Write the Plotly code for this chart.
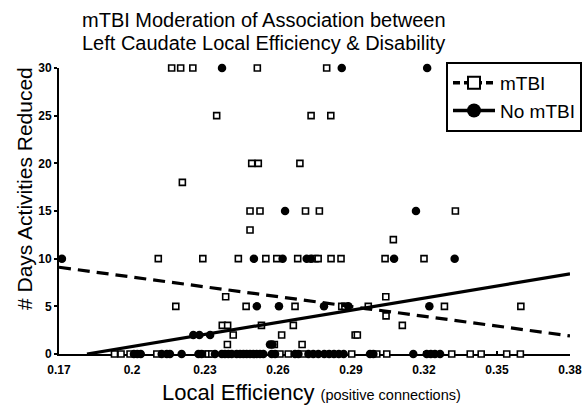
import plotly.graph_objects as go

# ---- data ----
mtbi_x = [0.2163, 0.2200, 0.2250, 0.2515, 0.2800,
          0.2348, 0.2736, 0.2817,
          0.2492, 0.2519, 0.2690,
          0.2207,
          0.2485, 0.2526, 0.2713, 0.2770, 0.3329,
          0.2485,
          0.3074,
          0.2108, 0.2291, 0.2437, 0.2550, 0.2595, 0.2681, 0.2752, 0.2765, 0.2818, 0.2859, 0.3040, 0.3200,
          0.2385, 0.3043,
          0.2180, 0.2469, 0.2670, 0.2862, 0.2875, 0.2971, 0.3284, 0.3598,
          0.3044,
          0.2371, 0.2393, 0.2532, 0.2663, 0.3111,
          0.2416, 0.2615, 0.2917, 0.2926,
          0.2392, 0.2585, 0.2699,
          0.1928, 0.1955, 0.1992, 0.2102, 0.2300, 0.2314, 0.2328, 0.2608, 0.2642, 0.2702,
          0.2903, 0.3006, 0.3047, 0.3314, 0.3390, 0.3435, 0.3540, 0.3596]
mtbi_y = [30, 30, 30, 30, 30,
          25, 25, 25,
          20, 20, 20,
          18,
          15, 15, 15, 15, 15,
          13,
          12,
          10, 10, 10, 10, 10, 10, 10, 10, 10, 10, 10, 10,
          6, 6,
          5, 5, 5, 5, 5, 5, 5, 5,
          4,
          3, 3, 3, 3, 3,
          2, 2, 2, 2,
          1, 1, 1,
          0, 0, 0, 0, 0, 0, 0, 0, 0, 0,
          0, 0, 0, 0, 0, 0, 0, 0]

nomtbi_x = [0.2370, 0.2862, 0.3213,
            0.2629, 0.3167,
            0.1712, 0.2501, 0.2619, 0.2718, 0.2735, 0.3077, 0.3326,
            0.2513, 0.2604, 0.2789, 0.2889, 0.3222,
            0.2252, 0.2277, 0.2321,
            0.2567, 0.2577,
            0.2008, 0.2022, 0.2036, 0.2122, 0.2143, 0.2156, 0.2204, 0.2273, 0.2286, 0.2341,
            0.2369, 0.2382, 0.2396, 0.2410, 0.2430, 0.2444, 0.2458, 0.2471, 0.2485, 0.2499,
            0.2512, 0.2526, 0.2540, 0.2574, 0.2588, 0.2670, 0.2684, 0.2725, 0.2745, 0.2766,
            0.2790, 0.2810, 0.2830, 0.2850, 0.2870, 0.2978, 0.2992, 0.3156, 0.3211, 0.3228,
            0.3245, 0.3266]
nomtbi_y = [30, 30, 30,
            15, 15,
            10, 10, 10, 10, 10, 10, 10,
            5, 5, 5, 5, 5,
            2, 2, 2,
            1, 1,
            0, 0, 0, 0, 0, 0, 0, 0, 0, 0,
            0, 0, 0, 0, 0, 0, 0, 0, 0, 0,
            0, 0, 0, 0, 0, 0, 0, 0, 0, 0,
            0, 0, 0, 0, 0, 0, 0, 0, 0, 0,
            0, 0]

# regression lines
mtbi_fit_x = [0.17, 0.38]
mtbi_fit_y = [9.1, 1.9]
nomtbi_fit_x = [0.1815, 0.38]
nomtbi_fit_y = [0.0, 8.4]

x_ticks = [0.17, 0.20, 0.23, 0.26, 0.29, 0.32, 0.35, 0.38]
x_tick_labels = ["0.17", "0.2", "0.23", "0.26", "0.29", "0.32", "0.35", "0.38"]
y_ticks = [0, 5, 10, 15, 20, 25, 30]

title_lines = ["mTBI Moderation of Association between",
               "Left Caudate Local Efficiency & Disability"]

FONT = "Liberation Sans, Arial, sans-serif"
W, H = 583, 407
L, R, T, B = 59, 1, 68, 53
AXIS_RIGHT = 570                      # right end of the x axis (px)
PW, PH = W - L - R, H - T - B


def px_x(p):
    return (p - L) / PW


def px_y(p):
    return (H - B - p) / PH


fig = go.Figure()

fig.add_trace(go.Scatter(
    x=mtbi_x, y=mtbi_y, mode="markers", showlegend=False, cliponaxis=False,
    marker=dict(symbol="square", size=6, color="white",
                line=dict(color="black", width=1.6))))
fig.add_trace(go.Scatter(
    x=nomtbi_x, y=nomtbi_y, mode="markers", showlegend=False, cliponaxis=False,
    marker=dict(symbol="circle", size=8.5, color="black",
                line=dict(color="black", width=0))))
fig.add_trace(go.Scatter(
    x=mtbi_fit_x, y=mtbi_fit_y, mode="lines", showlegend=False,
    line=dict(color="black", width=3.2, dash="12px,7px")))
fig.add_trace(go.Scatter(
    x=nomtbi_fit_x, y=nomtbi_fit_y, mode="lines", showlegend=False,
    line=dict(color="black", width=3.2)))

# legend-only entries
fig.add_trace(go.Scatter(
    x=[None], y=[None], mode="lines+markers", name="mTBI",
    marker=dict(symbol="square", size=12, color="white",
                line=dict(color="black", width=2)),
    line=dict(color="black", width=3.5, dash="7px,4px")))
fig.add_trace(go.Scatter(
    x=[None], y=[None], mode="lines+markers", name="No mTBI",
    marker=dict(symbol="circle", size=14, color="black"),
    line=dict(color="black", width=3.5)))

fig.update_layout(
    width=W, height=H,
    paper_bgcolor="white", plot_bgcolor="white",
    margin=dict(l=L, r=R, t=T, b=B),
    font=dict(family=FONT, color="black"),
    legend=dict(
        x=px_x(582), y=px_y(62), xanchor="right", yanchor="top",
        bgcolor="white", bordercolor="black", borderwidth=2,
        font=dict(family=FONT, size=19, color="black"),
        itemsizing="trace", itemwidth=42, tracegroupgap=0),
    xaxis=dict(
        domain=[0, (AXIS_RIGHT - L) / PW],
        range=[0.17, 0.38], tickvals=x_ticks, ticktext=x_tick_labels,
        showgrid=False, zeroline=False, showline=True, linecolor="black", linewidth=2,
        ticks="inside", ticklen=3, tickwidth=1.5, tickcolor="black",
        tickfont=dict(family=FONT, size=12, color="black", weight="bold"),
        ticklabelstandoff=4,
        layer="below traces", automargin=False),
    yaxis=dict(
        range=[0, 30], tickvals=y_ticks,
        showgrid=False, zeroline=False, showline=True, linecolor="black", linewidth=2,
        ticks="outside", ticklen=3, tickwidth=1.5, tickcolor="black",
        tickfont=dict(family=FONT, size=12, color="black", weight="bold"),
        layer="below traces", automargin=False),
    annotations=[
        dict(text=title_lines[0], xref="paper", yref="paper", x=px_x(264), y=px_y(19.5),
             xanchor="center", yanchor="middle", showarrow=False,
             font=dict(family=FONT, size=20, color="black")),
        dict(text=title_lines[1], xref="paper", yref="paper", x=px_x(263), y=px_y(43),
             xanchor="center", yanchor="middle", showarrow=False,
             font=dict(family=FONT, size=20, color="black")),
        dict(text="# Days Activities Reduced", xref="paper", yref="paper",
             x=px_x(24), y=px_y(189), xanchor="center", yanchor="middle",
             textangle=-90, showarrow=False,
             font=dict(family=FONT, size=21, color="black")),
        dict(text="Local Efficiency <span style='font-size:14.5px'>(positive connections)</span>",
             xref="paper", yref="paper",
             x=px_x(311), y=px_y(393), xanchor="center", yanchor="middle",
             showarrow=False,
             font=dict(family=FONT, size=22, color="black")),
    ],
)

fig.write_html("out.html", config={"displayModeBar": False},
               post_script="document.body.style.margin='0';")
